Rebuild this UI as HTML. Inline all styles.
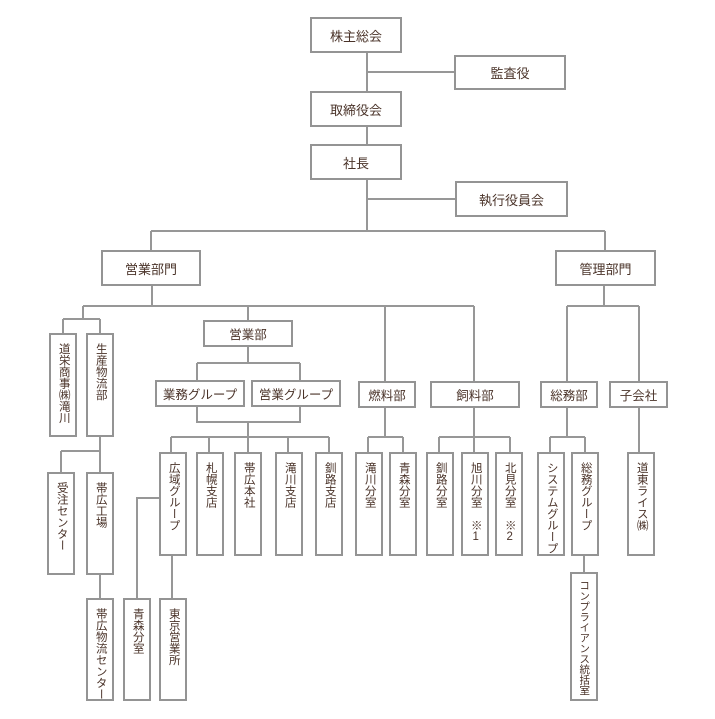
<!DOCTYPE html>
<html><head><meta charset="utf-8"><style>
body{margin:0;width:715px;height:719px;background:#fff;position:relative;overflow:hidden;font-family:"Liberation Sans","Noto Sans CJK JP",sans-serif;color:#4a3329}
.b{position:absolute;box-sizing:border-box;border:2px solid #949494;background:#fff;display:flex;align-items:center;justify-content:center;font-size:13px}
.v{position:absolute;box-sizing:border-box;border:2px solid #949494;background:#fff;display:flex;justify-content:center;padding-top:8px;font-size:11.5px;overflow:visible}
.v span{writing-mode:vertical-rl;text-orientation:upright;line-height:1;white-space:nowrap;letter-spacing:0}
svg{position:absolute;left:0;top:0}
</style></head><body>
<svg width="715" height="719"><g stroke="#979797" stroke-width="2" fill="none">
<path d="M367 53V91M367 72H454M367 127V144M367 180V231M367 199H455M151 231H605M151 231V250M605 231V250"/>
<path d="M152 286V306M83 306H474M83 306V319M63 319H100M63 319V333M100 319V333"/>
<path d="M100 437V472M61 451H100M61 451V472"/>
<path d="M100 575V598"/>
<path d="M248 306V320M248 347V363M197 363H300M197 363V380M300 363V380M197 407V422H300V407M248 422V437M171 437H329M171 437V452M209 437V452M248 437V452M288 437V452M329 437V452"/>
<path d="M159 498H137V598M172 556V598"/>
<path d="M385 306V381M474 306V381M385 408V437M368 437H403M368 437V452M403 437V452M474 408V437M439 437H510M439 437V452M474 437V452M510 437V452"/>
<path d="M604 286V306M567 306H639M567 306V381M639 306V381M567 408V437M550 437H585M550 437V452M585 437V452M584 556V572M639 408V452"/>
</g></svg>
<div class="b" style="left:310px;top:17px;width:92px;height:36px">株主総会</div>
<div class="b" style="left:454px;top:55px;width:112px;height:35px">監査役</div>
<div class="b" style="left:310px;top:91px;width:92px;height:36px">取締役会</div>
<div class="b" style="left:310px;top:144px;width:92px;height:36px">社長</div>
<div class="b" style="left:455px;top:181px;width:113px;height:36px">執行役員会</div>
<div class="b" style="left:101px;top:250px;width:100px;height:36px">営業部門</div>
<div class="b" style="left:555px;top:250px;width:101px;height:36px">管理部門</div>
<div class="b" style="left:203px;top:320px;width:90px;height:27px;font-size:12.5px">営業部</div>
<div class="b" style="left:155px;top:380px;width:90px;height:27px;font-size:12.5px">業務グループ</div>
<div class="b" style="left:251px;top:380px;width:90px;height:27px;font-size:12.5px">営業グループ</div>
<div class="b" style="left:358px;top:381px;width:58px;height:27px;font-size:12.5px">燃料部</div>
<div class="b" style="left:430px;top:381px;width:90px;height:27px;font-size:12.5px">飼料部</div>
<div class="b" style="left:540px;top:381px;width:58px;height:27px;font-size:12.5px">総務部</div>
<div class="b" style="left:609px;top:381px;width:59px;height:27px;font-size:12.5px">子会社</div>
<div class="v" style="left:49px;top:333px;width:28px;height:104px"><span>道栄商事㈱滝川</span></div>
<div class="v" style="left:86px;top:333px;width:28px;height:104px"><span>生産物流部</span></div>
<div class="v" style="left:47px;top:472px;width:28px;height:103px"><span>受注センター</span></div>
<div class="v" style="left:86px;top:472px;width:28px;height:103px"><span>帯広工場</span></div>
<div class="v" style="left:86px;top:598px;width:28px;height:103px"><span>帯広物流センター</span></div>
<div class="v" style="left:123px;top:598px;width:28px;height:103px"><span>青森分室</span></div>
<div class="v" style="left:159px;top:598px;width:28px;height:103px"><span>東京営業所</span></div>
<div class="v" style="left:159px;top:452px;width:28px;height:104px"><span>広域グループ</span></div>
<div class="v" style="left:196px;top:452px;width:28px;height:104px"><span>札幌支店</span></div>
<div class="v" style="left:234px;top:452px;width:28px;height:104px"><span>帯広本社</span></div>
<div class="v" style="left:275px;top:452px;width:28px;height:104px"><span>滝川支店</span></div>
<div class="v" style="left:315px;top:452px;width:28px;height:104px"><span>釧路支店</span></div>
<div class="v" style="left:355px;top:452px;width:28px;height:104px"><span>滝川分室</span></div>
<div class="v" style="left:389px;top:452px;width:28px;height:104px"><span>青森分室</span></div>
<div class="v" style="left:426px;top:452px;width:28px;height:104px"><span>釧路分室</span></div>
<div class="v" style="left:461px;top:452px;width:28px;height:104px"><span>旭川分室&#12288;※1</span></div>
<div class="v" style="left:495px;top:452px;width:28px;height:104px"><span>北見分室&#12288;※2</span></div>
<div class="v" style="left:537px;top:452px;width:28px;height:104px"><span>システムグループ</span></div>
<div class="v" style="left:571px;top:452px;width:28px;height:104px"><span>総務グループ</span></div>
<div class="v" style="left:570px;top:572px;width:28px;height:129px;font-size:10.5px;padding-top:6px"><span>コンプライアンス統括室</span></div>
<div class="v" style="left:627px;top:452px;width:28px;height:104px"><span>道東ライス㈱</span></div>
</body></html>
